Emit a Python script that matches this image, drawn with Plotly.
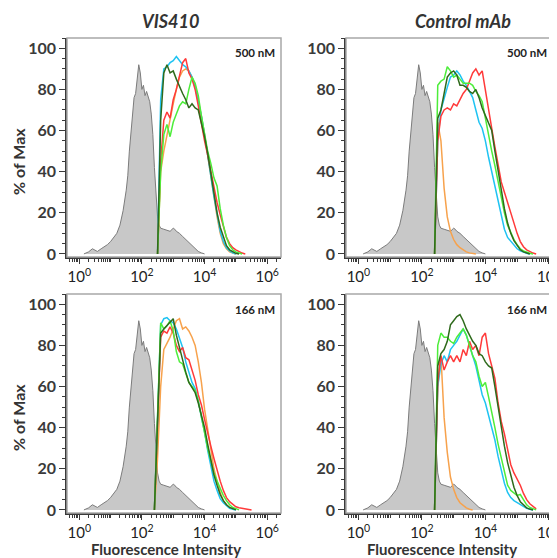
import plotly.graph_objects as go

# log10(fluorescence) of the histogram bins used for the stained samples
bins_log = [2.4, 2.5, 2.6, 2.7, 2.8, 2.9, 3.0, 3.1, 3.2, 3.3, 3.4, 3.5, 3.6, 3.7, 3.8,
            3.9, 4.0, 4.1, 4.2, 4.3, 4.4, 4.5, 4.6, 4.7, 4.8, 4.9, 5.0, 5.1, 5.2, 5.3,
            5.4, 5.5, 5.6]

# unstained control (grey, same in every panel)
iso_log = [0.15, 0.3, 0.42, 0.5, 0.58, 0.7, 0.8, 0.9, 1.0, 1.1, 1.2, 1.3, 1.4, 1.5, 1.55,
           1.6, 1.65, 1.7, 1.75, 1.8, 1.85, 1.9, 1.95, 2.0, 2.05, 2.1, 2.15, 2.2, 2.25,
           2.3, 2.35, 2.4, 2.45, 2.5, 2.55, 2.6, 2.7, 2.8, 2.9, 3.0, 3.05, 3.1, 3.2, 3.3,
           3.4, 3.5, 3.6, 3.7, 3.8, 3.9, 4.0]
iso_pct = [0, 1, 2.5, 2, 1.2, 2.5, 3.5, 4.5, 6, 8, 10, 14, 21, 31, 38,
           50, 60, 70, 76, 78, 85, 92, 88, 80, 82, 77, 79, 77, 74,
           68, 58, 42, 28, 18, 14, 12.5, 12, 11.5, 11, 12.5, 12, 11, 10, 8.5,
           7, 5.5, 4, 2.5, 1.2, 0.5, 0]

N = None

# VIS410, 500 nM
vis500_orange = [N, 0, 40, 50, 58, 66, 73, 80, 86, 89, 90, 89, 86, 82, 75, 67, 58, 48, 38, 27,
                 18, 10, 5, 2.5, 1, 0.4, 0, N, N, N, N, N, N]
vis500_cyan = [N, 0, 75, 90, 91, 93, 94, 96, 94, 92, 91, 89, 86, 81, 74, 67, 58, 49, 38, 28,
               19, 11, 6, 3, 1.5, 0.5, 0, N, N, N, N, N, N]
vis500_red = [N, 0, 45, 65, 69, 66, 75, 80, 86, 93, 95, 88, 85, 80, 72, 63, 55, 48, 40, 32,
              25, 19, 13, 8, 5, 3, 2, 1, 0.4, 0, N, N, N]
vis500_lime = [N, 0, 40, 58, 63, 57, 64, 68, 72, 74, 73, 80, 86, 83, 77, 67, 58, 50, 44, 37,
               33, 22, 14, 8, 4, 2, 1, 0.3, 0, N, N, N, N]
vis500_dkgreen = [N, 0, 65, 88, 92, 88, 89, 85, 81, 78, 75, 71, 73, 71, 70, 64, 57, 49, 39, 30,
                  20, 13, 8, 4, 2, 1, 0.3, 0, N, N, N, N, N]

# Control mAb, 500 nM
ctl500_orange = [0, 64, 55, 32, 18, 11, 7, 4.5, 3, 1.8, 1, 0.5, 0.2, 0, N, N, N, N, N, N,
                 N, N, N, N, N, N, N, N, N, N, N, N, N]
ctl500_cyan = [0, 55, 70, 76, 81, 86, 87, 89, 87, 84, 82, 79, 76, 70, 64, 61, 55, 47, 40, 32,
               25, 18, 12, 8, 6, 4, 2.5, 1.5, 0.8, 0.3, 0, N, N]
ctl500_red = [0, 55, 67, 70, 71, 70, 73, 72, 75, 78, 80, 84, 88, 90, 87, 89, 79, 70, 61, 52,
              43, 35, 30, 25, 19, 14, 10, 6, 3.5, 2, 1, 0.4, 0]
ctl500_lime = [0, 82, 84, 85, 91, 89, 86, 87, 85, 83, 83, 83, 82, 79, 77, 74, 66, 57, 50, 43,
               35, 27, 20, 14, 10, 7, 4.5, 2.5, 1.5, 0.8, 0.3, 0, N]
ctl500_dkgreen = [0, 66, 70, 78, 86, 88, 89, 87, 82, 82, 81, 79, 78, 80, 76, 71, 67, 63, 60, 50,
                  40, 30, 22, 15, 10, 6.5, 4, 2, 1, 0.4, 0, N, N]

# VIS410, 166 nM
vis166_orange = [0, 25, 60, 78, 81, 84, 88, 92, 93, 88, 89, 87, 84, 80, 72, 62, 49, 40, 29, 20,
                 14, 8.5, 4.5, 2.5, 1.2, 0.5, 0, N, N, N, N, N, N]
vis166_cyan = [0, 45, 90, 93, 93.5, 92, 91, 88, 84, 79, 72, 67, 62, 59, 53, 45, 38, 29, 21, 14,
               9.5, 5.5, 3.5, 2, 0.8, 0.3, 0, N, N, N, N, N, N]
vis166_red = [0, 40, 84, 87, 86, 89, 86, 80, 77, 79, 74, 73, 68, 63, 56, 51, 44, 37, 31, 25,
              19, 14, 9.5, 6, 4, 2.7, 1.5, 1.1, 0.8, 0.6, 0.3, 0, N]
vis166_lime = [0, 50, 91, 88, 89.5, 92, 87, 77, 72, 71, 66, 62, 60, 58, 53, 45, 37, 30, 24, 18,
               14, 10, 7, 4.5, 2.5, 1.2, 0.5, 0, N, N, N, N, N]
vis166_dkgreen = [0, 40, 86, 88, 89.5, 91, 93, 85, 79, 72, 67, 62, 59.5, 57, 52, 46, 40, 32, 24.5, 17,
                  12, 7.5, 4.5, 2.5, 1.2, 0.4, 0, N, N, N, N, N, N]

# Control mAb, 166 nM
ctl166_orange = [0, 60, 75, 45, 28, 16, 10, 6, 3.5, 2, 1, 0.3, 0, N, N, N, N, N, N, N,
                 N, N, N, N, N, N, N, N, N, N, N, N, N]
ctl166_cyan = [0, 60, 71, 75, 72, 78, 80, 82, 85, 88, 85, 80, 75, 70, 63, 56, 52, 46, 41, 34,
               26, 19, 13, 8.5, 6, 4.5, 3.5, 2.5, 1.5, 0.8, 0.3, 0, N]
ctl166_red = [0, 62, 75, 68, 72, 75, 72, 75, 72, 78, 75, 82, 78, 80, 75, 84, 86, 76, 70, 64,
              52, 43, 37, 30, 22, 18, 15, 12, 8, 5, 3, 1.5, 0.5]
ctl166_lime = [0, 80, 86, 84, 84, 82, 81, 84, 86, 88, 85, 80, 75, 72, 65, 60, 62, 55, 48, 40,
               32, 25, 18, 12, 9.5, 8, 7, 7.5, 5, 2.5, 1.2, 0.5, 0]
ctl166_dkgreen = [0, 70, 76, 78, 82, 90, 92, 94, 95, 92, 88, 85, 82, 80, 76, 75, 72, 70, 69, 60,
                  50, 40, 31, 23, 17, 11, 7, 4, 2.5, 1, 0.4, 0, N]

colors = {"orange": "#f7a24c", "cyan": "#1fc3f2", "red": "#ff3a3a",
          "lime": "#4ded3a", "dkgreen": "#2f6a1c"}

# the page body keeps its default 8px margin, so the figure is drawn 8px in
OFF = 8
W, H = 557 - OFF, 558 - OFF


def fx(px):
    return (px - OFF) / W


def fy(py):
    return 1 - (py - OFF) / H


# panel boxes in page pixels: left, right, top, bottom, x max (log10), series, conc
panels = [
    (67, 281, 38, 257, 6.44, [vis500_orange, vis500_cyan, vis500_red, vis500_lime, vis500_dkgreen], "500 nM"),
    (346, 553, 38, 257, 6.13, [ctl500_orange, ctl500_cyan, ctl500_red, ctl500_lime, ctl500_dkgreen], "500 nM"),
    (67, 281, 294, 513, 6.44, [vis166_orange, vis166_cyan, vis166_red, vis166_lime, vis166_dkgreen], "166 nM"),
    (346, 553, 294, 513, 6.13, [ctl166_orange, ctl166_cyan, ctl166_red, ctl166_lime, ctl166_dkgreen], "166 nM"),
]
order = ["orange", "cyan", "red", "lime", "dkgreen"]

bins_x = [10 ** v for v in bins_log]
iso_x = [10 ** v for v in iso_log]

major = [1, 100, 1e4, 1e6]
major_text = ["10<sup>0</sup>", "10<sup>2</sup>", "10<sup>4</sup>", "10<sup>6</sup>"]
# every other decade plus 2..9 inside each decade
minor = [m * 10 ** k for k in range(-1, 7) for m in range(1, 10) if (m > 1 or k % 2 == 1)]

ink = "#3a3a3a"
font = "Lato"

fig = go.Figure()
annotations = []
shapes = []
layout = {}
for i, (l, r, t, b, xmax, series, conc) in enumerate(panels):
    n = "" if i == 0 else str(i + 1)
    xa, ya = "x" + n, "y" + n
    fig.add_trace(go.Scatter(x=iso_x, y=iso_pct, xaxis=xa, yaxis=ya, mode="lines",
                             fill="tozeroy", fillcolor="#c8c8c8",
                             line=dict(color="#7c7c7c", width=1), hoverinfo="skip"))
    for name, vals in zip(order, series):
        fig.add_trace(go.Scatter(x=bins_x, y=vals, xaxis=xa, yaxis=ya, mode="lines",
                                 line=dict(color=colors[name], width=1.5), name=name))

    layout["xaxis" + n] = dict(
        type="log", range=[-0.39, xmax], domain=[fx(l), fx(r)], anchor=ya, automargin=False,
        tickvals=major, ticktext=major_text, ticks="outside", ticklen=5, tickwidth=1.3,
        tickcolor=ink, showline=True, linecolor=ink, linewidth=1.6,
        showgrid=False, zeroline=False, ticklabeloverflow="allow",
        tickfont=dict(family=font, size=15, color="#222"),
        minor=dict(tickvals=minor, ticks="outside", ticklen=3, tickcolor=ink, tickwidth=1),
    )
    layout["yaxis" + n] = dict(
        range=[-1.5, 105], domain=[fy(b), fy(t)], anchor=xa, automargin=False,
        tickvals=[0, 20, 40, 60, 80, 100], ticks="outside", ticklen=6, tickwidth=1.3,
        tickcolor=ink, showline=True, linecolor=ink, linewidth=1.6,
        showgrid=False, zeroline=False,
        tickfont=dict(family=font, size=16, color=ink, weight="bold"),
        minor=dict(dtick=5, ticks="outside", ticklen=3, tickcolor=ink, tickwidth=1),
    )
    shapes.append(dict(type="rect", xref=xa + " domain", yref=ya + " domain",
                       x0=0, x1=1, y0=0, y1=1, layer="above",
                       line=dict(color="#a8a8a8", width=1.5)))
    annotations.append(dict(text=conc, x=fx(r - 4), y=fy(t + 15),
                            xref="paper", yref="paper", xanchor="right", yanchor="middle",
                            showarrow=False,
                            font=dict(family=font, size=11.5, color="#222", weight="bold")))


def label(text, px, py, size, angle=0, italic=False):
    annotations.append(dict(text=text, x=fx(px), y=fy(py), xref="paper", yref="paper",
                            xanchor="center", yanchor="middle", showarrow=False, textangle=angle,
                            font=dict(family=font, size=size, color="#333", weight="bold",
                                      style="italic" if italic else "normal")))


label("VIS410", 170, 21, 18, italic=True)
label("Control mAb", 463, 21, 18, italic=True)
label("% of Max", 18, 162, 16, angle=-90)
label("% of Max", 18, 418, 16, angle=-90)
label("Fluorescence Intensity", 166, 549, 15)
label("Fluorescence Intensity", 442, 549, 15)

fig.update_layout(
    width=W, height=H, margin=dict(l=0, r=0, t=0, b=0),
    paper_bgcolor="white", plot_bgcolor="white", showlegend=False,
    shapes=shapes, annotations=annotations, **layout,
)

fig.write_html("out.html")
